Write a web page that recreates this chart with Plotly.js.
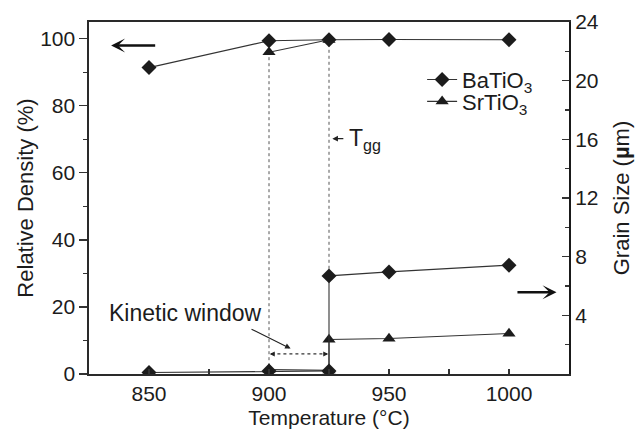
<!DOCTYPE html>
<html>
<head>
<meta charset="utf-8">
<script src="https://cdn.plot.ly/plotly-3.0.1.min.js"></script>
<style>
  html, body { margin: 0; padding: 0; background: #fff; }
  #chart { width: 636px; height: 434px; }
</style>
</head>
<body>
<div id="chart"></div>
<script>
// Sintering temperatures (°C)
const tempBaDensity = [850, 900, 925, 950, 1000];
const baDensity     = [91.4, 99.4, 99.7, 99.8, 99.7];   // BaTiO3 relative density (%)
const tempSrDensity = [900, 925];
const srDensity     = [96.0, 99.7];                      // SrTiO3 relative density (%)

// Grain size (µm); the repeated 925 °C entry marks the abrupt grain growth step
const tempBaGrain = [850, 900, 925, 925, 950, 1000];
const baGrain     = [0.1, 0.2, 0.2, 6.69, 6.96, 7.42];
const tempSrGrain = [900, 925, 925, 950, 1000];
const srGrain     = [0.3, 0.25, 2.35, 2.42, 2.76];

const xTicks = [850, 900, 950, 1000];
const yTicks = [0, 20, 40, 60, 80, 100];
const y2Ticks = [4, 8, 12, 16, 20, 24];

const FONT = 'Liberation Sans, Arial, Helvetica, sans-serif';
const INK = '#1c1c1c';
const LINE = '#333';

const markerBa = { symbol: 'diamond', size: 11.5, color: INK };
const markerSr = { symbol: 'triangle-up', size: 11.5, color: INK };
const seriesLine = { color: LINE, width: 1.1 };

const traces = [
  { x: tempBaDensity, y: baDensity, yaxis: 'y', mode: 'lines+markers',
    line: seriesLine, marker: markerBa, showlegend: false, name: 'BaTiO<sub>3</sub>' },
  { x: tempSrDensity, y: srDensity, yaxis: 'y', mode: 'lines+markers',
    line: seriesLine, marker: markerSr, showlegend: false, name: 'SrTiO<sub>3</sub>' },
  { x: tempSrGrain, y: srGrain, yaxis: 'y2', mode: 'lines+markers',
    line: seriesLine, marker: markerSr, name: 'SrTiO<sub>3</sub>', legend: 'legend2' },
  { x: tempBaGrain, y: baGrain, yaxis: 'y2', mode: 'lines+markers',
    line: seriesLine, marker: markerBa, name: 'BaTiO<sub>3</sub>', legend: 'legend' }
];

const legendStyle = {
  xanchor: 'left', yanchor: 'middle',
  bgcolor: 'rgba(0,0,0,0)', borderwidth: 0,
  font: { family: FONT, size: 22, color: INK },
  itemwidth: 30, tracegroupgap: 0
};

const layout = {
  width: 636, height: 434,
  margin: { l: 89, r: 67, t: 22, b: 60 },
  paper_bgcolor: '#fff', plot_bgcolor: '#fff',
  font: { family: FONT, size: 21, color: INK },
  showlegend: true,
  legend:  Object.assign({ x: 0.694, y: 0.836 }, legendStyle),
  legend2: Object.assign({ x: 0.694, y: 0.774 }, legendStyle),
  xaxis: {
    range: [825, 1025], tickvals: xTicks, ticks: 'inside', ticklen: 5, tickwidth: 1.2,
    tickcolor: LINE, showgrid: false, zeroline: false,
    showline: true, linecolor: '#2a2a2a', linewidth: 1.6, mirror: true,
    minor: { dtick: 25, tick0: 850, ticks: 'inside', ticklen: 5, tickcolor: LINE, showgrid: false },
    tickfont: { size: 21 },
    title: { text: 'Temperature (°C)', font: { size: 21 }, standoff: 6 }
  },
  yaxis: {
    range: [0, 105], tickvals: yTicks, ticks: 'outside', ticklen: 8, tickwidth: 1.2,
    tickcolor: LINE, showgrid: false, zeroline: false,
    showline: true, linecolor: '#2a2a2a', linewidth: 1.6,
    minor: { dtick: 10, tick0: 0, ticks: 'outside', ticklen: 4, tickcolor: LINE, showgrid: false },
    tickfont: { size: 21 },
    title: { text: 'Relative Density (%)', font: { size: 22 }, standoff: 0 }
  },
  yaxis2: {
    overlaying: 'y', side: 'right', anchor: 'x',
    range: [0, 24], tickvals: y2Ticks, ticks: 'inside', ticklen: 7, tickwidth: 1.2,
    tickcolor: LINE, showgrid: false, zeroline: false,
    showline: true, linecolor: '#1a1a1a', linewidth: 2,
    minor: { dtick: 2, tick0: 0, ticks: 'inside', ticklen: 4, tickcolor: LINE, showgrid: false },
    tickfont: { size: 21 },
    title: { text: 'Grain Size (<b>µ</b>m)', font: { size: 22 }, standoff: 16 }
  },
  shapes: [
    // dotted guide lines at 900 °C and at the grain growth onset (925 °C)
    { type: 'line', xref: 'x', yref: 'y', x0: 900, x1: 900, y0: 94.5, y1: 1.5,
      line: { color: '#555', width: 1, dash: 'dot' }, layer: 'below' },
    { type: 'line', xref: 'x', yref: 'y', x0: 925, x1: 925, y0: 98.5, y1: 30,
      line: { color: '#555', width: 1, dash: 'dot' }, layer: 'below' },
    // kinetic window span
    { type: 'line', xref: 'x', yref: 'y', x0: 901, x1: 924, y0: 6.0, y1: 6.0,
      line: { color: '#333', width: 1.2, dash: 'dot' }, layer: 'below' }
  ],
  annotations: [
    // axis pointers
    { xref: 'x', yref: 'y', axref: 'x', ayref: 'y', x: 834.2, y: 98, ax: 853.2, ay: 98,
      showarrow: true, arrowhead: 3, arrowsize: 0.9, arrowwidth: 2.6, arrowcolor: '#111', text: '' },
    { xref: 'x', yref: 'y', axref: 'x', ayref: 'y', x: 1019.8, y: 24.4, ax: 1002.9, ay: 24.4,
      showarrow: true, arrowhead: 3, arrowsize: 0.9, arrowwidth: 2.6, arrowcolor: '#111', text: '' },
    // kinetic window label and pointer
    { xref: 'x', yref: 'y', x: 865, y: 18.3, text: 'Kinetic window', showarrow: false,
      font: { size: 23, color: INK }, xanchor: 'center', yanchor: 'middle' },
    { xref: 'x', yref: 'y', axref: 'x', ayref: 'y', x: 909.0, y: 7.6, ax: 892.1, ay: 13.6,
      showarrow: true, arrowhead: 2, arrowsize: 1, arrowwidth: 1.1, arrowcolor: '#222', text: '' },
    // kinetic window end caps
    { xref: 'x', yref: 'y', x: 900.3, y: 6.0, ax: 6, ay: 0, showarrow: true,
      arrowhead: 2, arrowsize: 1, arrowwidth: 1, arrowcolor: '#222', text: '' },
    { xref: 'x', yref: 'y', x: 924.7, y: 6.0, ax: -6, ay: 0, showarrow: true,
      arrowhead: 2, arrowsize: 1, arrowwidth: 1, arrowcolor: '#222', text: '' },
    // T_gg marker
    { xref: 'x', yref: 'y', x: 932.3, y: 70.0, text: 'T<sub>gg</sub>', showarrow: false,
      font: { size: 23, color: INK }, xanchor: 'left', yanchor: 'middle' },
    { xref: 'x', yref: 'y', axref: 'x', ayref: 'y', x: 926.4, y: 70.2, ax: 931.6, ay: 70.2,
      showarrow: true, arrowhead: 2, arrowsize: 0.8, arrowwidth: 1.4, arrowcolor: '#222', text: '' }
  ]
};

Plotly.newPlot('chart', traces, layout, { displayModeBar: false, staticPlot: true });
</script>
</body>
</html>
